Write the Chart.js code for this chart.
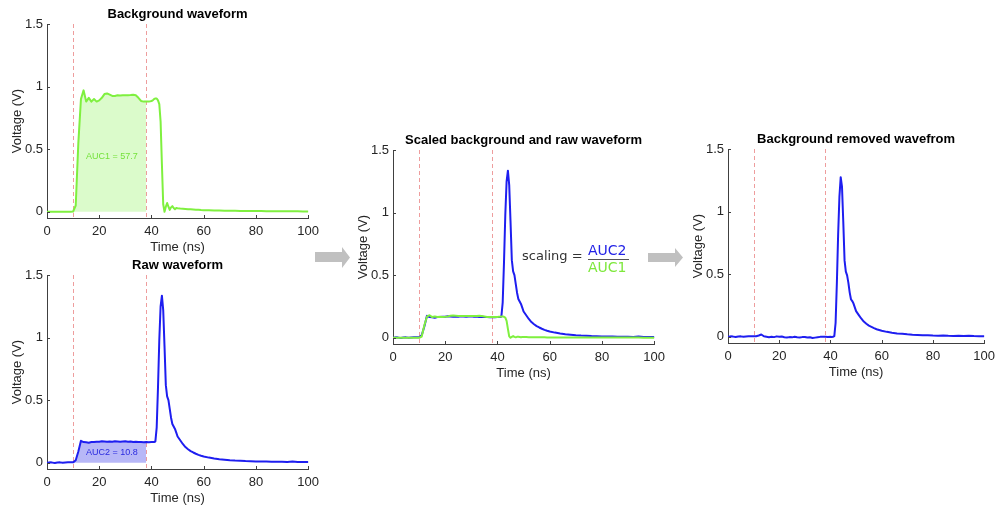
<!DOCTYPE html>
<html lang="en">
<head>
  <meta charset="UTF-8" />
  <title>Background removal of waveform</title>
  <script src="https://cdn.jsdelivr.net/npm/chart.js"></script>
  <style>
    html, body {
      margin: 0;
      width: 1000px;
      height: 508px;
      overflow: hidden;
      background: #fff;
    }
    body { position: relative; }
    canvas { position: absolute; }
    #bgChart { left: 0; top: 0; }
    #rawChart { left: 0; top: 251px; }
    #mixChart { left: 346px; top: 126px; }
    #cleanChart { left: 681px; top: 125px; }
    svg.arrows { position: absolute; left: 0; top: 0; }
    .formula span {
      position: absolute;
      font-family: 'DejaVu Sans', Verdana, sans-serif;
      line-height: 16px;
      white-space: nowrap;
    }
    .formula .lhs { left: 522px; top: 248px; font-size: 13px; color: #333; }
    .formula .num { left: 588px; top: 242px; font-size: 14px; color: #2323e6; }
    .formula .den { left: 588px; top: 259px; font-size: 14px; color: #7ee83c; }
    .formula .bar { position: absolute; left: 588px; top: 259px; width: 41px; height: 1px; background: #555; }
  </style>
</head>
<body>
  <canvas id="bgChart" width="325" height="255"></canvas>
  <canvas id="rawChart" width="325" height="255"></canvas>
  <canvas id="mixChart" width="325" height="255"></canvas>
  <canvas id="cleanChart" width="320" height="255"></canvas>

  <svg class="arrows" width="1000" height="508">
    <polygon fill="#c0c0c0" points="315,252 342,252 342,247 350,257.5 342,268 342,262 315,262" />
    <polygon fill="#c0c0c0" points="648,253 675,253 675,248 683,257.5 675,267 675,262 648,262" />
  </svg>

  <div class="formula">
    <span class="lhs">scaling =</span>
    <span class="num">AUC2</span>
    <div class="bar"></div>
    <span class="den">AUC1</span>
  </div>

  <script>
    // sample times (ns); finer around the pulse
    const timeNs = [
      0, 1, 2, 3, 4, 5, 6, 7, 8, 9, 10,
      11, 12, 13, 14, 15, 16, 17, 18, 19, 20, 21, 22, 23, 24, 25, 26, 27, 28, 29, 30,
      31, 32, 33, 34, 35, 36, 37, 38, 39, 40,
      40.5, 41, 41.5, 42, 42.5, 43, 43.5, 44, 44.5, 45, 45.5, 46, 46.5, 47, 47.5, 48, 48.5, 49, 49.5, 50,
      51, 52, 53, 54, 55, 56, 57, 58, 59, 60,
      62, 64, 66, 68, 70, 72, 74, 76, 78, 80, 82, 84, 86, 88, 90, 92, 94, 96, 98, 100
    ];

    const background = [
      0, 0, 0, 0, 0, 0, 0, 0, 0, 0, 0.002,
      0.05, 0.55, 0.9, 0.97, 0.88, 0.91, 0.88, 0.9, 0.88, 0.89, 0.91, 0.94, 0.945, 0.935, 0.925, 0.925, 0.93, 0.928, 0.93, 0.93,
      0.93, 0.932, 0.935, 0.93, 0.91, 0.885, 0.88, 0.88, 0.88, 0.885,
      0.89, 0.9, 0.905, 0.905, 0.89, 0.86, 0.72, 0.38, 0.06, 0.0, 0.04, 0.07, 0.04, 0.015, 0.035, 0.045, 0.03, 0.02, 0.03, 0.028,
      0.025, 0.024, 0.022, 0.02, 0.019, 0.018, 0.016, 0.015, 0.013, 0.012,
      0.011, 0.01, 0.009, 0.008, 0.007, 0.007, 0.006, 0.006, 0.005, 0.005, 0.005, 0.004, 0.004, 0.004, 0.003, 0.003, 0.003, 0.003, 0.002, 0.002
    ];

    const raw = [
      0, 0.003, 0.001, -0.002, 0.002, 0.003, 0, 0.002, 0.003, 0.004, 0.003,
      0.02, 0.09, 0.175, 0.165, 0.163, 0.16, 0.165, 0.165, 0.168, 0.168, 0.172, 0.17, 0.168, 0.17, 0.168, 0.172, 0.17, 0.168, 0.17, 0.172,
      0.168, 0.17, 0.165, 0.167, 0.165, 0.165, 0.164, 0.165, 0.163, 0.165,
      0.165, 0.166, 0.17, 0.28, 0.6, 0.98, 1.25, 1.335, 1.22, 0.93, 0.62, 0.53, 0.5, 0.43, 0.36, 0.31, 0.29, 0.27, 0.24, 0.21,
      0.18, 0.15, 0.125, 0.108, 0.093, 0.082, 0.072, 0.063, 0.056, 0.05,
      0.041, 0.034, 0.028, 0.024, 0.02, 0.017, 0.015, 0.013, 0.012, 0.01, 0.009, 0.01, 0.008, 0.007, 0.008, 0.006, 0.009, 0.006, 0.005, 0.005
    ];

    const scaledBackground = [
      0, 0, 0, 0, 0, 0, 0, 0, 0, 0, 0,
      0.01, 0.1, 0.168, 0.18, 0.165, 0.17, 0.165, 0.168, 0.165, 0.167, 0.17, 0.176, 0.177, 0.175, 0.173, 0.173, 0.174, 0.174, 0.174, 0.174,
      0.174, 0.174, 0.175, 0.174, 0.17, 0.166, 0.165, 0.165, 0.165, 0.166,
      0.167, 0.168, 0.169, 0.169, 0.167, 0.161, 0.135, 0.071, 0.011, 0, 0.007, 0.013, 0.007, 0.003, 0.007, 0.008, 0.006, 0.004, 0.006, 0.005,
      0.005, 0.004, 0.004, 0.004, 0.004, 0.003, 0.003, 0.003, 0.002, 0.002,
      0.002, 0.002, 0.002, 0.001, 0.001, 0.001, 0.001, 0.001, 0.001, 0.001, 0.001, 0.001, 0.001, 0.001, 0.001, 0.001, 0.001, 0, 0, 0
    ];

    const removed = [
      0, 0.003, 0.001, -0.002, 0.002, 0.003, 0, 0.002, 0.003, 0.004, 0.003,
      0.004, 0.01, 0.018, 0.004, 0.0, -0.004, 0.0, -0.003, 0.003, 0.0, 0.002, -0.004, -0.006, -0.003, -0.005, 0.0, -0.004, -0.006, -0.003, -0.002,
      -0.006, -0.004, -0.01, -0.007, -0.004, -0.001, -0.001, 0.0, -0.002, -0.001,
      -0.002, 0.0, 0.005, 0.11, 0.43, 0.82, 1.12, 1.275, 1.2, 0.92, 0.61, 0.52, 0.49, 0.43, 0.355, 0.3, 0.285, 0.265, 0.235, 0.205,
      0.175, 0.146, 0.121, 0.104, 0.089, 0.079, 0.069, 0.06, 0.054, 0.048,
      0.039, 0.032, 0.026, 0.023, 0.019, 0.016, 0.014, 0.012, 0.011, 0.009, 0.008, 0.009, 0.007, 0.006, 0.007, 0.005, 0.008, 0.005, 0.004, 0.004
    ];

    const markerTimes = [10, 38];   // integration window
    const xTicks = [0, 20, 40, 60, 80, 100];
    const yTicks = [0, 0.5, 1, 1.5];

    const GREEN = '#7ff03f';
    const BLUE = '#1e1ef0';

    Chart.defaults.font.family = "'Liberation Sans', Arial, sans-serif";
    Chart.defaults.font.size = 13;
    Chart.defaults.color = '#262626';

    const points = vals => timeNs.map((t, i) => ({ x: t, y: vals[i] }));
    const windowPoints = vals => points(vals).filter(p => p.x >= markerTimes[0] && p.x <= markerTimes[1]);

    // dashed window lines, inward ticks and the AUC note
    const matlabLook = {
      id: 'matlabLook',
      beforeDatasetsDraw(chart, args, opts) {
        const { ctx, chartArea, scales: { x } } = chart;
        ctx.save();
        ctx.strokeStyle = '#ee9d9d';
        ctx.lineWidth = 1;
        ctx.setLineDash([4, 3]);
        markerTimes.forEach(m => {
          const px = Math.round(x.getPixelForValue(m)) + 0.5;
          ctx.beginPath();
          ctx.moveTo(px, chartArea.top);
          ctx.lineTo(px, chartArea.bottom);
          ctx.stroke();
        });
        ctx.restore();
      },
      afterDraw(chart, args, opts) {
        const { ctx, chartArea, scales: { x, y } } = chart;
        ctx.save();
        ctx.strokeStyle = '#404040';
        ctx.lineWidth = 1;
        x.ticks.forEach(t => {
          const px = Math.round(x.getPixelForValue(t.value)) + 0.5;
          ctx.beginPath();
          ctx.moveTo(px, chartArea.bottom);
          ctx.lineTo(px, chartArea.bottom - 3);
          ctx.stroke();
        });
        y.ticks.forEach(t => {
          const py = Math.round(y.getPixelForValue(t.value)) + 0.5;
          ctx.beginPath();
          ctx.moveTo(chartArea.left, py);
          ctx.lineTo(chartArea.left + 3, py);
          ctx.stroke();
        });
        if (opts.note) {
          ctx.fillStyle = opts.note.color;
          ctx.font = "9px 'Liberation Sans', Arial, sans-serif";
          ctx.textAlign = 'center';
          ctx.textBaseline = 'middle';
          ctx.fillText(opts.note.text, x.getPixelForValue(opts.note.x), y.getPixelForValue(opts.note.y));
        }
        ctx.restore();
      }
    };

    function waveChart(canvasId, title, datasets, note, rightPad) {
      return new Chart(document.getElementById(canvasId), {
        type: 'line',
        data: { datasets: datasets },
        options: {
          responsive: false,
          animation: false,
          events: [],
          layout: { padding: { right: rightPad || 16 } },
          plugins: {
            legend: { display: false },
            tooltip: { enabled: false },
            title: {
              display: true,
              text: title,
              fullSize: false,
              color: '#000',
              font: { size: 13, weight: 'bold' },
              padding: { top: 7, bottom: 1.4 }
            },
            matlabLook: { note: note }
          },
          scales: {
            x: {
              type: 'linear',
              min: 0,
              max: 100,
              afterBuildTicks: s => { s.ticks = xTicks.map(v => ({ value: v })); },
              ticks: { padding: 6, color: '#262626' },
              grid: { display: false, drawTicks: false },
              border: { color: '#404040', width: 1 },
              title: { display: true, text: 'Time (ns)', padding: 0, color: '#262626' },
              afterFit: s => { s.height = 37; }
            },
            y: {
              type: 'linear',
              min: -0.05,
              max: 1.5,
              afterBuildTicks: s => { s.ticks = yTicks.map(v => ({ value: v })); },
              ticks: { padding: 4, color: '#262626', callback: v => String(v) },
              grid: { display: false, drawTicks: false },
              border: { color: '#404040', width: 1 },
              title: { display: true, text: 'Voltage (V)', padding: { top: 10, bottom: 0 }, color: '#262626' },
              afterFit: s => { s.width = 47; }
            }
          }
        },
        plugins: [matlabLook]
      });
    }

    const lineSet = (vals, color) => ({
      data: points(vals), borderColor: color, borderWidth: 2,
      borderJoinStyle: 'round', borderCapStyle: 'round',
      pointRadius: 0, fill: false, tension: 0
    });
    const areaSet = (vals, color) => ({
      data: windowPoints(vals), borderWidth: 0, pointRadius: 0,
      fill: 'origin', backgroundColor: color
    });

    waveChart('bgChart', 'Background waveform',
      [lineSet(background, GREEN), areaSet(background, 'rgba(125,240,70,0.28)')],
      { text: 'AUC1 = 57.7', x: 24.8, y: 0.44, color: '#74e23a' });

    waveChart('rawChart', 'Raw waveform',
      [lineSet(raw, BLUE), areaSet(raw, 'rgba(30,30,230,0.32)')],
      { text: 'AUC2 = 10.8', x: 24.8, y: 0.08, color: '#2a2ae0' });

    waveChart('mixChart', 'Scaled background and raw waveform',
      [lineSet(scaledBackground, GREEN), lineSet(raw, BLUE)], null);

    waveChart('cleanChart', 'Background removed wavefrom',
      [lineSet(removed, BLUE)], null, 11);
  </script>
</body>
</html>
